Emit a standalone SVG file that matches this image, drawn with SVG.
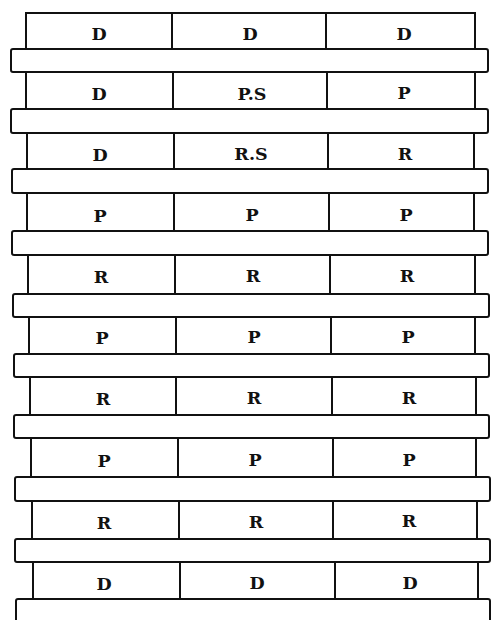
<svg xmlns="http://www.w3.org/2000/svg" width="497" height="620" viewBox="0 0 497 620">
<style>
.slab{fill:#fff;stroke:#111;stroke-width:2}
.cell{fill:#fff;stroke:#111;stroke-width:2}
.div{stroke:#111;stroke-width:2;fill:none}
.t{font-family:"DejaVu Serif","Liberation Serif",serif;font-size:17.5px;font-weight:bold;fill:#111;text-anchor:middle}
</style>
<rect width="497" height="620" fill="#fff"/>
<g id="slabs">
<rect class="slab" x="11" y="49" width="477" height="23" rx="2"/>
<rect class="slab" x="11" y="109" width="477" height="24" rx="2"/>
<rect class="slab" x="12" y="169" width="476" height="24" rx="2"/>
<rect class="slab" x="12" y="231" width="476" height="24" rx="2"/>
<rect class="slab" x="13" y="294" width="476" height="23" rx="2"/>
<rect class="slab" x="14" y="354" width="475" height="23" rx="2"/>
<rect class="slab" x="14" y="415" width="475" height="23" rx="2"/>
<rect class="slab" x="15" y="477" width="475" height="24" rx="2"/>
<rect class="slab" x="15" y="539" width="475" height="23" rx="2"/>
<rect class="slab" x="16" y="599" width="474" height="30" rx="2"/>
</g>
<g id="row1">
<rect class="cell" x="26" y="13" width="449" height="36"/>
<path class="div" d="M172 13V49M326 13V49"/>
<text class="t" x="99" y="39.5">D</text><text class="t" x="250" y="39.5">D</text><text class="t" x="404" y="39.5">D</text>
</g>
<g id="row2">
<path class="div" d="M26 72V109M173 72V109M327 72V109M475 72V109"/>
<text class="t" x="99" y="99.5">D</text><text class="t" x="252" y="99.5">P.S</text><text class="t" x="404" y="98.5">P</text>
</g>
<g id="row3">
<path class="div" d="M27 133V169M174 133V169M328 133V169M474 133V169"/>
<text class="t" x="100" y="160.5">D</text><text class="t" x="251" y="159.5">R.S</text><text class="t" x="405" y="159.5">R</text>
</g>
<g id="row4">
<path class="div" d="M27 193V231M174 193V231M329 193V231M474 193V231"/>
<text class="t" x="100" y="221.5">P</text><text class="t" x="252" y="220.5">P</text><text class="t" x="406" y="220.5">P</text>
</g>
<g id="row5">
<path class="div" d="M28 255V294M175 255V294M330 255V294M475 255V294"/>
<text class="t" x="101" y="282.5">R</text><text class="t" x="253" y="281.5">R</text><text class="t" x="407" y="281.5">R</text>
</g>
<g id="row6">
<path class="div" d="M29 317V354M176 317V354M331 317V354M475 317V354"/>
<text class="t" x="102" y="343.5">P</text><text class="t" x="254" y="342.5">P</text><text class="t" x="408" y="342.5">P</text>
</g>
<g id="row7">
<path class="div" d="M30 377V415M176 377V415M332 377V415M476 377V415"/>
<text class="t" x="103" y="404.5">R</text><text class="t" x="254" y="403.5">R</text><text class="t" x="409" y="403.5">R</text>
</g>
<g id="row8">
<path class="div" d="M31 438V477M178 438V477M333 438V477M476 438V477"/>
<text class="t" x="104" y="466.5">P</text><text class="t" x="255" y="465.5">P</text><text class="t" x="409" y="465.5">P</text>
</g>
<g id="row9">
<path class="div" d="M32 501V539M179 501V539M333 501V539M477 501V539"/>
<text class="t" x="104" y="528.5">R</text><text class="t" x="256" y="527.5">R</text><text class="t" x="409" y="526.5">R</text>
</g>
<g id="row10">
<path class="div" d="M33 562V599M180 562V599M335 562V599M478 562V599"/>
<text class="t" x="104" y="589.5">D</text><text class="t" x="257" y="588.5">D</text><text class="t" x="410" y="588.5">D</text>
</g>
</svg>
